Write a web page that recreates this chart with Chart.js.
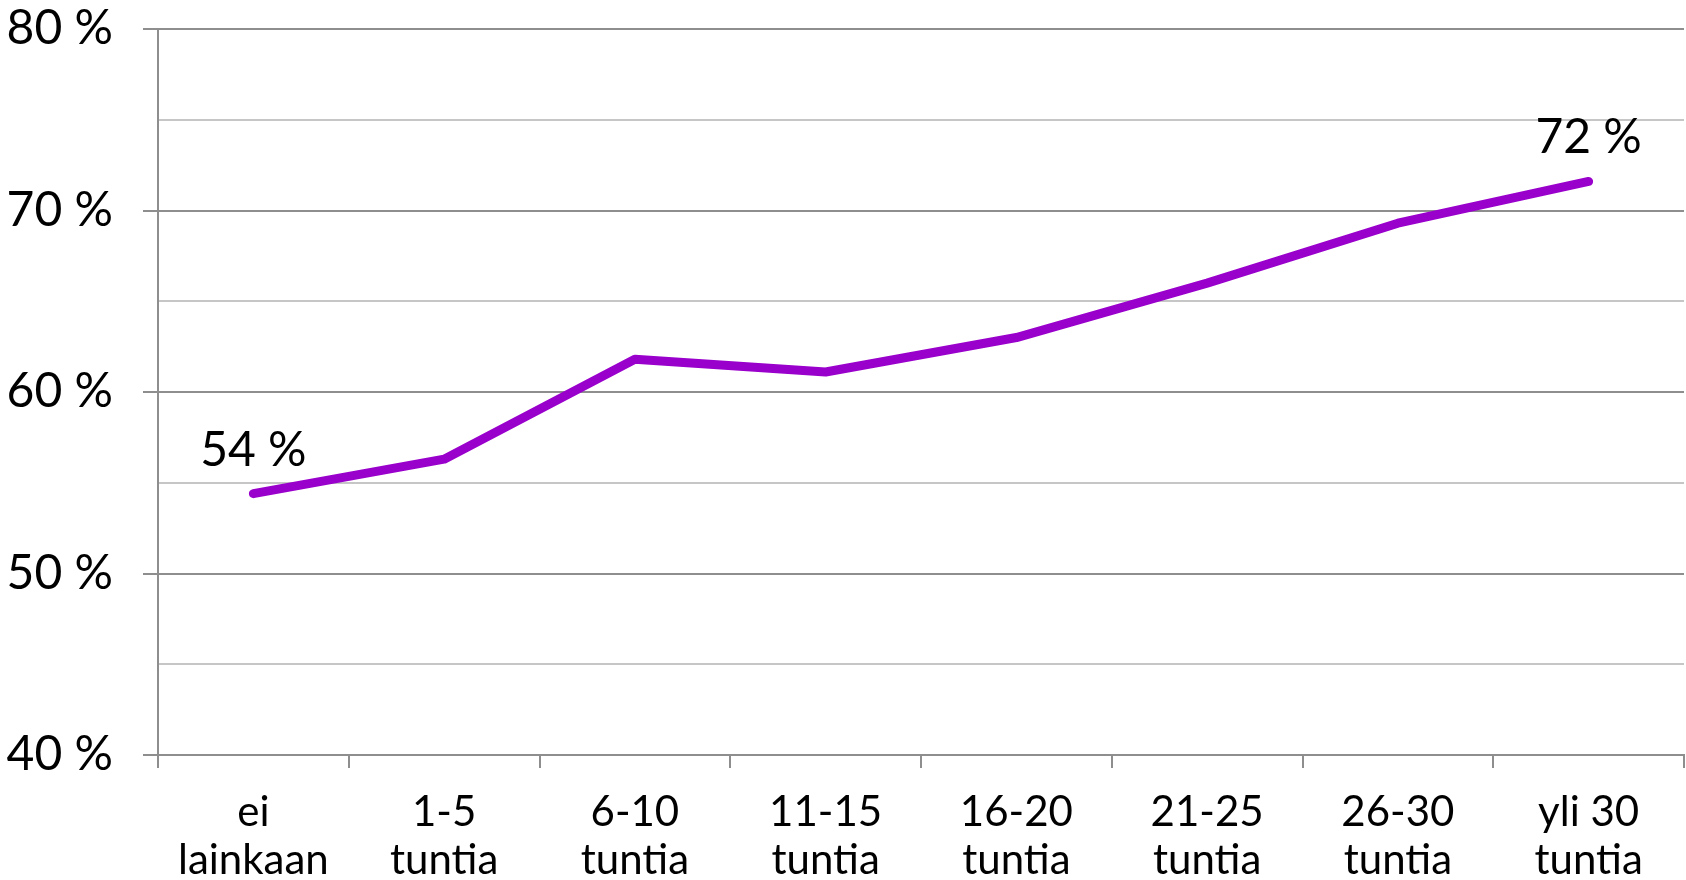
<!DOCTYPE html>
<html lang="fi">
<head>
<meta charset="utf-8">
<title>Osuus tuntimäärän mukaan</title>
<script src="https://cdn.jsdelivr.net/npm/chart.js@4.4.1/dist/chart.umd.min.js"></script>
<style>
  html, body { margin: 0; padding: 0; background: #fff; }
  #wrap { width: 1686px; height: 880px; }
</style>
</head>
<body>
<div id="wrap"><canvas id="chart" width="1686" height="880"></canvas></div>
<script>
// categories (two-line labels) and values
const categories = [
  ['ei', 'lainkaan'],
  ['1-5', 'tuntia'],
  ['6-10', 'tuntia'],
  ['11-15', 'tuntia'],
  ['16-20', 'tuntia'],
  ['21-25', 'tuntia'],
  ['26-30', 'tuntia'],
  ['yli 30', 'tuntia']
];
const shares = [54.4, 56.3, 61.8, 61.1, 63.0, 66.0, 69.3, 71.6];
const yTicks = [40, 45, 50, 55, 60, 65, 70, 75, 80];
const labelledPoints = [0, 7];

const FONT = 'Lato, "Open Sans", sans-serif';
const MAJOR = '#8e8e8e';
const MINOR = '#c6c6c6';

// draws "54 %" / "72 %" above the first and last point
const endLabels = {
  id: 'endLabels',
  afterDatasetsDraw(chart) {
    const meta = chart.getDatasetMeta(0);
    const ctx = chart.ctx;
    ctx.save();
    ctx.font = '48px ' + FONT;
    ctx.fillStyle = '#000';
    ctx.textAlign = 'center';
    ctx.textBaseline = 'alphabetic';
    labelledPoints.forEach(i => {
      const pt = meta.data[i];
      ctx.fillText(Math.round(shares[i]) + ' %', pt.x, pt.y - 28);
    });
    ctx.restore();
  }
};

new Chart(document.getElementById('chart'), {
  type: 'line',
  data: {
    labels: categories,
    datasets: [{
      data: shares,
      borderColor: '#9900cc',
      borderWidth: 9,
      borderCapStyle: 'round',
      borderJoinStyle: 'round',
      tension: 0,
      pointRadius: 0,
      fill: false
    }]
  },
  options: {
    responsive: false,
    animation: false,
    devicePixelRatio: 1,
    layout: { padding: { top: 29, right: 2, left: 0, bottom: 0 } },
    plugins: {
      legend: { display: false },
      tooltip: { enabled: false }
    },
    scales: {
      x: {
        type: 'category',
        offset: true,
        grid: {
          offset: true,
          drawOnChartArea: false,
          drawTicks: true,
          tickLength: 13,
          color: MAJOR,
          lineWidth: 2
        },
        border: { display: true, color: MAJOR, width: 2 },
        ticks: {
          color: '#000',
          font: { family: FONT, size: 42, lineHeight: 1.15 },
          padding: 20,
          maxRotation: 0,
          autoSkip: false
        },
        afterFit: (scale) => { scale.height = 125; }
      },
      y: {
        min: 40,
        max: 80,
        afterBuildTicks: (scale) => {
          scale.ticks = yTicks.map(v => ({ value: v }));
        },
        grid: {
          color: (c) => (c.tick && c.tick.value % 10 === 0) ? MAJOR : MINOR,
          tickColor: (c) => (c.tick && c.tick.value % 10 === 0) ? MAJOR : 'rgba(0,0,0,0)',
          lineWidth: 2,
          drawTicks: true,
          tickLength: 15
        },
        border: { display: true, color: MAJOR, width: 2 },
        ticks: {
          color: '#000',
          font: { family: FONT, size: 48 },
          padding: 30,
          callback: (v) => (v % 10 === 0 ? v + ' %' : '')
        },
        afterFit: (scale) => {
          scale.width = 158;
          // label overhang is already covered by layout padding
          scale.paddingTop = 0;
          scale.paddingBottom = 0;
        }
      }
    }
  },
  plugins: [endLabels]
});
</script>
</body>
</html>
